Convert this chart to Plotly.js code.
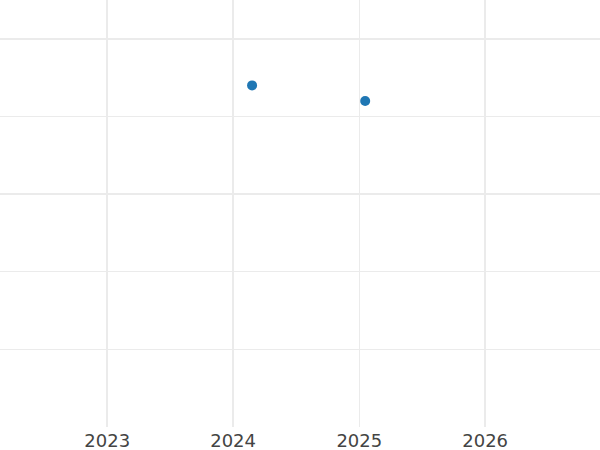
<!DOCTYPE html>
<html>
<head>
<meta charset="utf-8">
<script src="https://cdn.plot.ly/plotly-3.0.1.min.js"></script>
<style>html,body{margin:0;padding:0;background:#fff;}#chart{width:600px;height:450px;}</style>
</head>
<body>
<div id="chart"></div>
<script>
const dates = ["2024-02-25", "2025-01-18"];
const values = [4.40, 4.20];
const xRange = ["2022-02-24", "2026-11-30"];
const yRange = [0, 5.5];

const trace = {
  x: dates,
  y: values,
  type: "scatter",
  mode: "markers",
  marker: {color: "#1f77b4", size: 10}
};

const layout = {
  width: 600,
  height: 450,
  margin: {l: 0, r: 0, t: 0, b: 23},
  paper_bgcolor: "#ffffff",
  plot_bgcolor: "#ffffff",
  showlegend: false,
  font: {family: "DejaVu Sans", size: 18, color: "#444444"},
  xaxis: {
    type: "date",
    range: xRange,
    dtick: "M12",
    tick0: "2023-01-01",
    tickformat: "%Y",
    showgrid: true,
    gridcolor: "#ebebeb",
    gridwidth: 1.5,
    zeroline: false,
    showline: false,
    ticks: "",
    ticklabelstandoff: 1,
    tickfont: {family: "DejaVu Sans", size: 18, color: "#444444"}
  },
  yaxis: {
    range: yRange,
    dtick: 1,
    showgrid: true,
    gridcolor: "#ebebeb",
    gridwidth: 1.5,
    zeroline: false,
    showline: false,
    showticklabels: false,
    ticks: ""
  }
};

Plotly.newPlot("chart", [trace], layout, {displayModeBar: false, staticPlot: true});
</script>
</body>
</html>
